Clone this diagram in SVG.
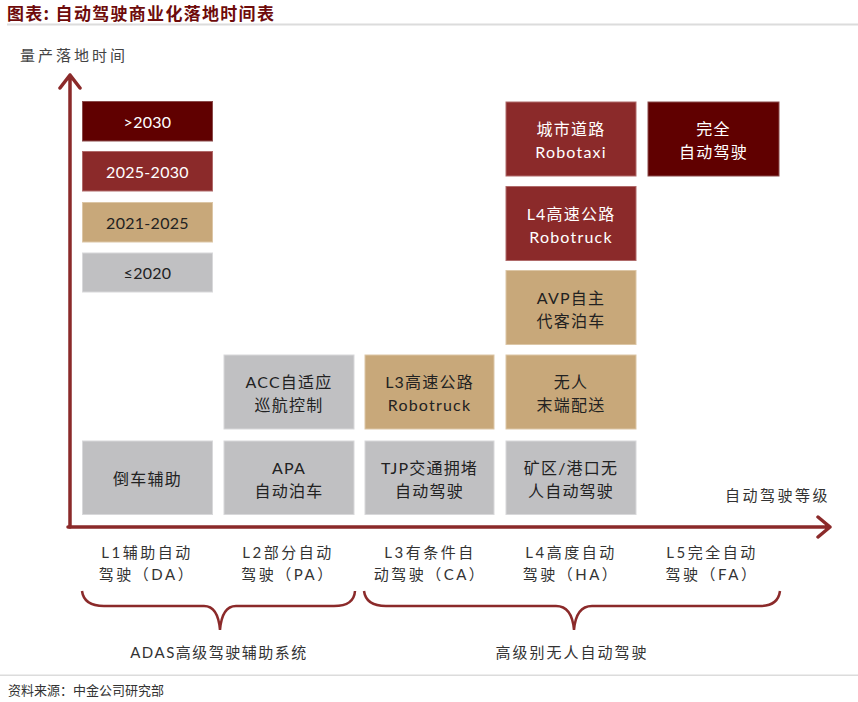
<svg xmlns="http://www.w3.org/2000/svg" width="858" height="702" viewBox="0 0 858 702">
<style>
text{font-family:Lato,"Noto Sans CJK SC",sans-serif;}
.t{font-size:16px;text-anchor:middle;dominant-baseline:central;letter-spacing:1.2px;}
.lg{font-size:16px;text-anchor:middle;dominant-baseline:central;letter-spacing:0.3px;}
.w{fill:#ffffff;}
.d{fill:#222222;}
.c0{fill:#600000;stroke:#8a4a4a;stroke-width:1;}
.c1{fill:#8b2a2a;stroke:#b06a6a;stroke-width:1;}
.c2{fill:#c8a87a;stroke:#dcc6a6;stroke-width:1;}
.c3{fill:#c0c0c2;stroke:#d8d8da;stroke-width:1;}
.ax{stroke:#8b2a2a;stroke-width:3.5;fill:none;stroke-linecap:round;stroke-linejoin:round;}
.br{stroke:#8b2a2a;stroke-width:2.5;fill:none;}
.lab{font-size:15px;fill:#333;text-anchor:middle;dominant-baseline:central;letter-spacing:2.5px;}
</style>
<text x="7" y="20" font-size="17" font-weight="bold" fill="#6e0b0b" letter-spacing="1.3" style="font-family:'Noto Sans CJK SC',sans-serif">图表: 自动驾驶商业化落地时间表</text>
<rect x="7" y="23.5" width="851" height="2" fill="#dcdcdc"/>
<text x="20" y="55" font-size="15" fill="#444" dominant-baseline="central" letter-spacing="3">量产落地时间</text>

<g id="connectors">
<path class="ax" d="M70 527 L70 75 M60 88 L70 75 L80 88"/>
<path class="ax" d="M68 527 L830 527 M818 517 L830 527 L818 537"/>
<path class="br" d="M82 591 Q84 606 104 606 L204 606 Q218 606 220 630 Q222 606 236 606 L334 606 Q354 606 355 591"/>
<path class="br" d="M364 591 Q366 606 386 606 L556 606 Q572 606 574 630 Q576 606 592 606 L760 606 Q778 606 780 591"/>
</g>

<g id="legend-2030"><rect class="c0" x="82.5" y="101.5" width="130" height="39.5"/><text class="lg w" x="147.5" y="121.5">&gt;2030</text></g>
<g id="legend-2025-2030"><rect class="c1" x="82.5" y="151.5" width="130" height="39.5"/><text class="lg w" x="147.5" y="171.5">2025-2030</text></g>
<g id="legend-2021-2025"><rect class="c2" x="82.5" y="202.5" width="130" height="39.5"/><text class="lg d" x="147.5" y="222.5">2021-2025</text></g>
<g id="legend-2020"><rect class="c3" x="82.5" y="253" width="130" height="39"/><text class="lg d" x="147.5" y="272.5">≤2020</text></g>

<g id="n-daoche"><rect class="c3" x="82.5" y="441" width="130" height="73.5"/><text class="t d" x="147.5" y="478">倒车辅助</text></g>

<g id="n-acc"><rect class="c3" x="224" y="355" width="130" height="74"/><text class="t d" x="289" y="381">ACC自适应</text><text class="t d" x="289" y="404">巡航控制</text></g>
<g id="n-apa"><rect class="c3" x="224" y="441" width="130" height="73.5"/><text class="t d" x="289" y="467">APA</text><text class="t d" x="289" y="490">自动泊车</text></g>

<g id="n-l3truck"><rect class="c2" x="365" y="355" width="129" height="74"/><text class="t d" x="429.5" y="381">L3高速公路</text><text class="t d" x="429.5" y="404">Robotruck</text></g>
<g id="n-tjp"><rect class="c3" x="365" y="441" width="129" height="73.5"/><text class="t d" x="429.5" y="467">TJP交通拥堵</text><text class="t d" x="429.5" y="490">自动驾驶</text></g>

<g id="n-robotaxi"><rect class="c1" x="506" y="102" width="130" height="74"/><text class="t w" x="571" y="128">城市道路</text><text class="t w" x="571" y="151">Robotaxi</text></g>
<g id="n-l4truck"><rect class="c1" x="506" y="186.5" width="130" height="74"/><text class="t w" x="571" y="213">L4高速公路</text><text class="t w" x="571" y="236">Robotruck</text></g>
<g id="n-avp"><rect class="c2" x="506" y="270.5" width="130" height="74"/><text class="t d" x="571" y="297">AVP自主</text><text class="t d" x="571" y="320">代客泊车</text></g>
<g id="n-wuren"><rect class="c2" x="506" y="355" width="130" height="74"/><text class="t d" x="571" y="381">无人</text><text class="t d" x="571" y="404">末端配送</text></g>
<g id="n-kuangqu"><rect class="c3" x="506" y="441" width="130" height="73.5"/><text class="t d" x="571" y="467">矿区/港口无</text><text class="t d" x="571" y="490">人自动驾驶</text></g>

<g id="n-full"><rect class="c0" x="648" y="102" width="131" height="74"/><text class="t w" x="713.5" y="128">完全</text><text class="t w" x="713.5" y="151">自动驾驶</text></g>

<text x="725" y="495" font-size="15" fill="#333" dominant-baseline="central" letter-spacing="2.5">自动驾驶等级</text>

<text class="lab" x="147" y="552">L1辅助自动</text><text class="lab" x="147" y="574">驾驶（DA）</text>
<text class="lab" x="288" y="552">L2部分自动</text><text class="lab" x="288" y="574">驾驶（PA）</text>
<text class="lab" x="430" y="552">L3有条件自</text><text class="lab" x="430" y="574">动驾驶（CA）</text>
<text class="lab" x="571" y="552">L4高度自动</text><text class="lab" x="571" y="574">驾驶（HA）</text>
<text class="lab" x="712" y="552">L5完全自动</text><text class="lab" x="712" y="574">驾驶（FA）</text>

<text class="lab" x="219" y="652" style="letter-spacing:1.5px">ADAS高级驾驶辅助系统</text>
<text class="lab" x="572" y="652" style="letter-spacing:2px">高级别无人自动驾驶</text>

<rect x="0" y="674.5" width="858" height="1.5" fill="#dcdcdc"/>
<text x="8" y="690" font-size="13" fill="#333" dominant-baseline="central">资料来源：中金公司研究部</text>
</svg>
